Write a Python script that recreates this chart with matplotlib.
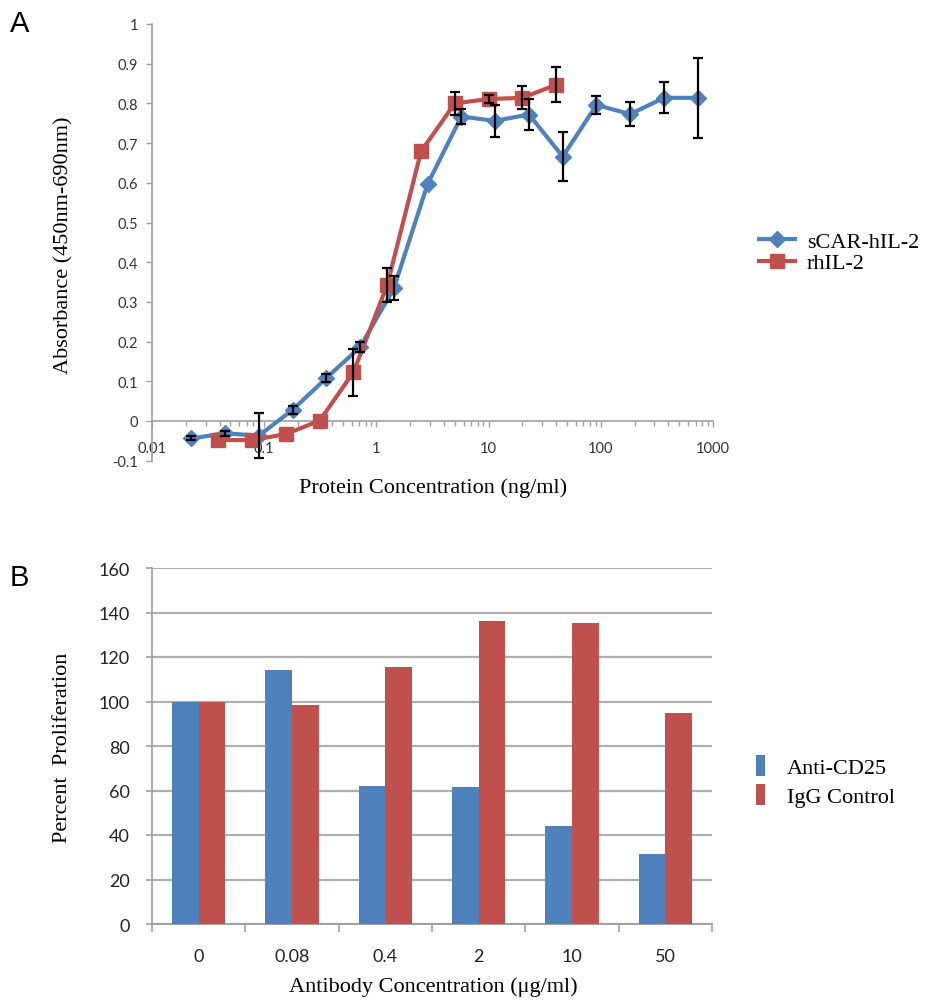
import numpy as np
import matplotlib
matplotlib.use("Agg")
import matplotlib.pyplot as plt
from matplotlib.ticker import FixedLocator, FixedFormatter, NullFormatter, LogLocator

# ---------------- Data ----------------
# Panel A
scar_conc = [0.0223, 0.0447, 0.0894, 0.179, 0.357, 0.715, 1.43, 2.86, 5.72,
             11.4, 22.9, 45.8, 91.5, 183, 366, 732]
scar_abs = [-0.044, -0.031, -0.037, 0.028, 0.108, 0.186, 0.334, 0.597, 0.767,
            0.756, 0.772, 0.666, 0.796, 0.773, 0.814, 0.814]
scar_err = [0.005, 0.006, 0.057, 0.010, 0.011, 0.012, 0.030, 0.0, 0.018,
            0.040, 0.040, 0.062, 0.023, 0.030, 0.039, 0.100]

rh_conc = [0.039, 0.078, 0.156, 0.3125, 0.625, 1.25, 2.5, 5, 10, 20, 40]
rh_abs = [-0.048, -0.048, -0.033, 0.001, 0.123, 0.343, 0.679, 0.800, 0.811, 0.814, 0.847]
rh_err = [0.0, 0.0, 0.0, 0.0, 0.059, 0.042, 0.0, 0.028, 0.010, 0.029, 0.044]

a_xticks = [0.01, 0.1, 1, 10, 100, 1000]
a_xticklabels = ["0.01", "0.1", "1", "10", "100", "1000"]
a_yticks = [-0.1, 0, 0.1, 0.2, 0.3, 0.4, 0.5, 0.6, 0.7, 0.8, 0.9, 1]
a_yticklabels = ["-0.1", "0", "0.1", "0.2", "0.3", "0.4", "0.5", "0.6", "0.7", "0.8", "0.9", "1"]

# Panel B
b_categories = ["0", "0.08", "0.4", "2", "10", "50"]
anti_cd25 = [100, 114.3, 62, 61.5, 44.2, 31.5]
igg_control = [100, 98.4, 115.4, 136, 135.1, 94.8]
b_yticks = [0, 20, 40, 60, 80, 100, 120, 140, 160]

# ---------------- Styles ----------------
BLUE = "#4F81BD"
RED = "#C0504D"
AXGRAY = "#A0A0A0"
SERIF = ["Liberation Serif", "DejaVu Serif"]
SANS = ["Lato", "DejaVu Sans"]
NARROW = ["Liberation Sans Narrow", "Lato", "DejaVu Sans"]

W, H = 946, 1003
fig = plt.figure(figsize=(W / 100, H / 100), dpi=100)

def fx(px):
    return px / W

def fy(py):
    return 1 - py / H

# ---------------- Panel A ----------------
axA = fig.add_axes([fx(152), fy(461.7), fx(713) - fx(152), fy(25) - fy(461.7)])
axA.set_xscale("log")
axA.set_xlim(0.01, 1000)
axA.set_ylim(-0.1, 1.0)

axA.plot(scar_conc, scar_abs, color=BLUE, lw=3, marker="D", ms=8.5,
         mec=BLUE, mfc=BLUE, label="sCAR-hIL-2", zorder=3)
axA.plot(rh_conc, rh_abs, color=RED, lw=3, marker="s", ms=10,
         mec=RED, mfc=RED, label="rhIL-2", zorder=3)

def draw_err(ax, xs, ys, es):
    sel = [i for i, e in enumerate(es) if e > 0]
    ax.errorbar([xs[i] for i in sel], [ys[i] for i in sel],
                yerr=[es[i] for i in sel], fmt="none", ecolor="black",
                elinewidth=1.6, capsize=3.5, capthick=1.6, zorder=4)

draw_err(axA, scar_conc, scar_abs, scar_err)
draw_err(axA, rh_conc, rh_abs, rh_err)

for s in ["top", "right"]:
    axA.spines[s].set_visible(False)
axA.spines["bottom"].set_position(("data", 0))
axA.spines["left"].set_color(AXGRAY)
axA.spines["bottom"].set_color(AXGRAY)
axA.spines["left"].set_linewidth(1.2)
axA.spines["bottom"].set_linewidth(1.2)

axA.xaxis.set_major_locator(FixedLocator(a_xticks))
axA.xaxis.set_major_formatter(FixedFormatter(a_xticklabels))
axA.xaxis.set_minor_locator(LogLocator(base=10, subs=np.arange(2, 10), numticks=20))
axA.xaxis.set_minor_formatter(NullFormatter())
axA.tick_params(axis="x", which="major", direction="out", length=4, width=1,
                color=AXGRAY, pad=10.5, labelsize=10.5, labelcolor="#333333")
axA.tick_params(axis="x", which="minor", direction="out", length=3.5, width=1,
                color=AXGRAY)
axA.set_yticks(a_yticks)
axA.set_yticklabels(a_yticklabels)
axA.tick_params(axis="y", direction="out", length=4, width=1, color=AXGRAY,
                pad=6, labelsize=10.5, labelcolor="#333333")
for lab in axA.get_xticklabels() + axA.get_yticklabels():
    lab.set_family(SANS)

fig.text(fx(64), fy(245), "Absorbance (450nm-690nm)", rotation=90,
         ha="center", va="center", fontsize=16, family=SERIF)
fig.text(fx(433), fy(488), "Protein Concentration (ng/ml)",
         ha="center", va="center", fontsize=16, family=SERIF)

legA = axA.legend(loc="upper left", bbox_to_anchor=(fx(748), fy(221)),
                  bbox_transform=fig.transFigure, frameon=False,
                  prop={"family": SERIF, "size": 16}, handlelength=1.6,
                  handletextpad=0.55, labelspacing=0.05, borderpad=0)
fig.text(fx(10), fy(24), "A", fontsize=21, family=["Liberation Sans", "DejaVu Sans"],
         ha="left", va="center")

# ---------------- Panel B ----------------
axB = fig.add_axes([fx(152), fy(925), fx(712) - fx(152), fy(569) - fy(925)])
x = np.arange(len(b_categories))
bw = 0.285
axB.bar(x - bw / 2, anti_cd25, width=bw, color=BLUE, label="Anti-CD25", zorder=3)
axB.bar(x + bw / 2, igg_control, width=bw, color=RED, label="IgG Control", zorder=3)
axB.set_xlim(-0.5, len(b_categories) - 0.5)
axB.set_ylim(0, 160)
axB.set_yticks(b_yticks)
axB.yaxis.grid(True, color="#AFAFAF", lw=1.6, zorder=0)
axB.set_axisbelow(True)
for s in ["top", "right"]:
    axB.spines[s].set_visible(False)
axB.spines["left"].set_color(AXGRAY)
axB.spines["bottom"].set_color(AXGRAY)
axB.spines["left"].set_linewidth(1.2)
axB.spines["bottom"].set_linewidth(1.4)
axB.set_xticks(x)
axB.set_xticklabels(b_categories)
axB.set_xticks(np.arange(len(b_categories) + 1) - 0.5, minor=True)
axB.tick_params(axis="x", which="major", length=0, pad=17, labelsize=13,
                labelcolor="#222222")
axB.tick_params(axis="x", which="minor", direction="out", length=5.5, width=1.2,
                color=AXGRAY)
axB.tick_params(axis="y", direction="out", length=4, width=1.2, color=AXGRAY,
                pad=12, labelsize=13, labelcolor="#222222")
for lab in axB.get_xticklabels() + axB.get_yticklabels():
    lab.set_family(NARROW)

fig.text(fx(62), fy(748), "Percent  Proliferation", rotation=90,
         ha="center", va="center", fontsize=16, family=SERIF)
fig.text(fx(433), fy(987), "Antibody Concentration (\u03bcg/ml)",
         ha="center", va="center", fontsize=16, family=SERIF)

legB = axB.legend(loc="upper left", bbox_to_anchor=(fx(745), fy(745)),
                  bbox_transform=fig.transFigure, frameon=False,
                  prop={"family": SERIF, "size": 16}, handlelength=0.4,
                  handleheight=1.1, handletextpad=1.0, labelspacing=0.25, borderpad=0)
fig.text(fx(10), fy(578), "B", fontsize=21, family=["Liberation Sans", "DejaVu Sans"],
         ha="left", va="center")

fig.savefig("out.png", dpi=100)
